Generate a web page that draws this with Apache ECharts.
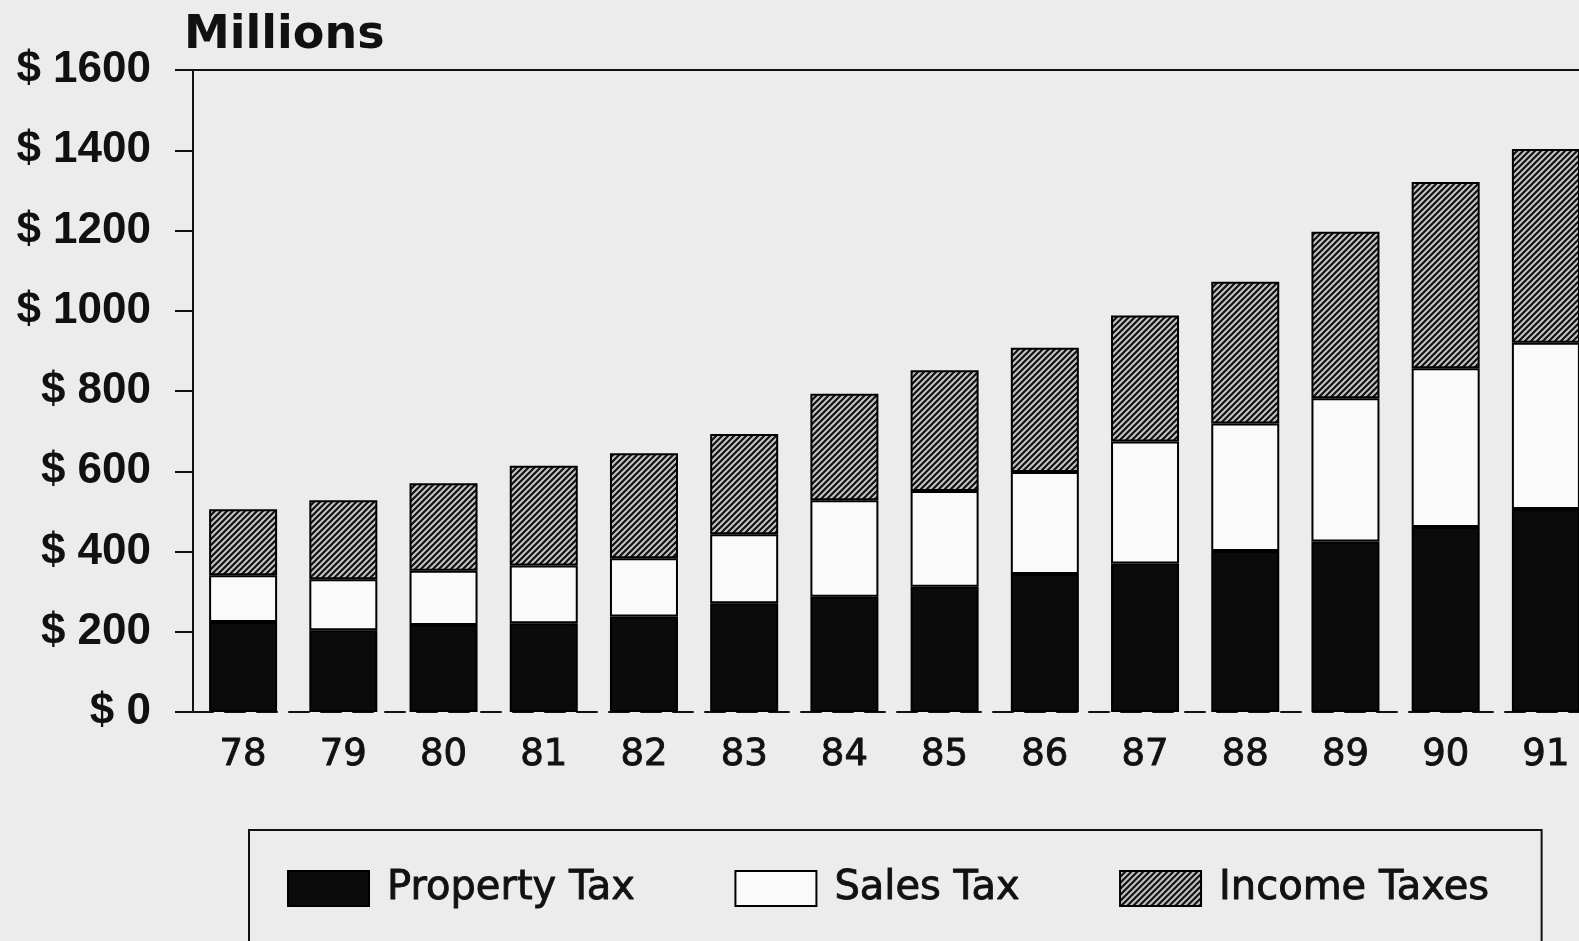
<!DOCTYPE html>
<html>
<head>
<meta charset="utf-8">
<title>Tax revenue</title>
<script src="https://cdn.jsdelivr.net/npm/echarts@6/dist/echarts.min.js"></script>
<style>
    html, body { margin: 0; padding: 0; background: #ececec; }
    #main { width: 1579px; height: 941px; }
</style>
</head>
<body>
<div id="main"></div>
<script>
// 数据
var years = ['78', '79', '80', '81', '82', '83', '84', '85', '86', '87', '88', '89', '90', '91'];
var propertyTax = [224, 204, 217, 221, 238, 271, 287, 312, 344, 370, 401, 425, 461, 506];
var salesTax = [117, 127, 135, 144, 145, 172, 241, 239, 254, 304, 318, 357, 396, 414];
var incomeTaxes = [164, 197, 218, 249, 262, 250, 265, 301, 310, 314, 353, 415, 464, 483];
var yTicks = [0, 200, 400, 600, 800, 1000, 1200, 1400, 1600];

// 斜线填充
function hatch() {
    var c = document.createElement('canvas');
    c.width = 6;
    c.height = 6;
    var ctx = c.getContext('2d');
    ctx.fillStyle = '#c4c4c4';
    ctx.fillRect(0, 0, 6, 6);
    ctx.strokeStyle = '#111';
    ctx.lineWidth = 2.2;
    ctx.beginPath();
    ctx.moveTo(0, 6); ctx.lineTo(6, 0);
    ctx.moveTo(-1, 1); ctx.lineTo(1, -1);
    ctx.moveTo(5, 7); ctx.lineTo(7, 5);
    ctx.stroke();
    return c;
}

function chart() {
    var myChart = echarts.init(document.getElementById('main'));
    var ink = '#111';

    var option = {
        backgroundColor: '#ececec',
        animation: false,
        title: {
            text: 'Millions',
            left: 184,
            top: 13,
            padding: 0,
            textStyle: {
                fontFamily: 'DejaVu Sans',
                fontWeight: 'bold',
                fontSize: 46,
                color: ink
            }
        },
        legend: {
            left: 249,
            top: 830,
            padding: [38, 52, 33, 38],
            borderColor: ink,
            borderWidth: 2,
            itemGap: 99,
            itemWidth: 81,
            itemHeight: 35,
            icon: 'rect',
            selectedMode: false,
            textStyle: {
                fontFamily: 'DejaVu Sans',
                fontSize: 40,
                color: ink,
                textBorderColor: ink,
                textBorderWidth: 0.9,
                padding: [16, 0, 0, 13]
            }
        },
        grid: {
            left: 193,
            top: 70,
            width: 1403,
            height: 642,
            outerBoundsMode: 'none'
        },
        xAxis: [{
            type: 'category',
            data: years,
            axisLine: { lineStyle: { color: ink, width: 2, type: [20, 12] } },
            axisTick: { show: false },
            axisLabel: {
                margin: 25,
                fontFamily: 'DejaVu Sans',
                fontSize: 37,
                color: ink,
                textBorderColor: ink,
                textBorderWidth: 0.9
            }
        }, {
            type: 'category',
            position: 'top',
            data: years,
            axisLine: { lineStyle: { color: ink, width: 2 } },
            axisTick: { show: false },
            axisLabel: { show: false }
        }],
        yAxis: {
            type: 'value',
            min: yTicks[0],
            max: yTicks[yTicks.length - 1],
            interval: 200,
            axisLine: { show: true, lineStyle: { color: ink, width: 2 } },
            axisTick: { show: true, length: 18, lineStyle: { color: ink, width: 2 } },
            splitLine: { show: false },
            axisLabel: {
                margin: 42,
                fontFamily: 'Liberation Sans',
                fontWeight: 'bold',
                fontSize: 44,
                color: ink,
                formatter: function (v) { return '$ ' + v; }
            }
        },
        series: [{
            name: 'Property Tax',
            type: 'bar',
            stack: 'tax',
            barWidth: 68,
            data: propertyTax,
            itemStyle: { color: '#0b0b0b', borderColor: '#000', borderWidth: 2 },
            emphasis: { disabled: true }
        }, {
            name: 'Sales Tax',
            type: 'bar',
            stack: 'tax',
            barWidth: 68,
            data: salesTax,
            itemStyle: { color: '#fafafa', borderColor: '#000', borderWidth: 2 },
            emphasis: { disabled: true }
        }, {
            name: 'Income Taxes',
            type: 'bar',
            stack: 'tax',
            barWidth: 68,
            data: incomeTaxes,
            itemStyle: {
                color: { image: hatch(), repeat: 'repeat' },
                borderColor: '#000',
                borderWidth: 2
            },
            emphasis: { disabled: true }
        }]
    };

    myChart.setOption(option);
}
chart();
</script>
</body>
</html>
